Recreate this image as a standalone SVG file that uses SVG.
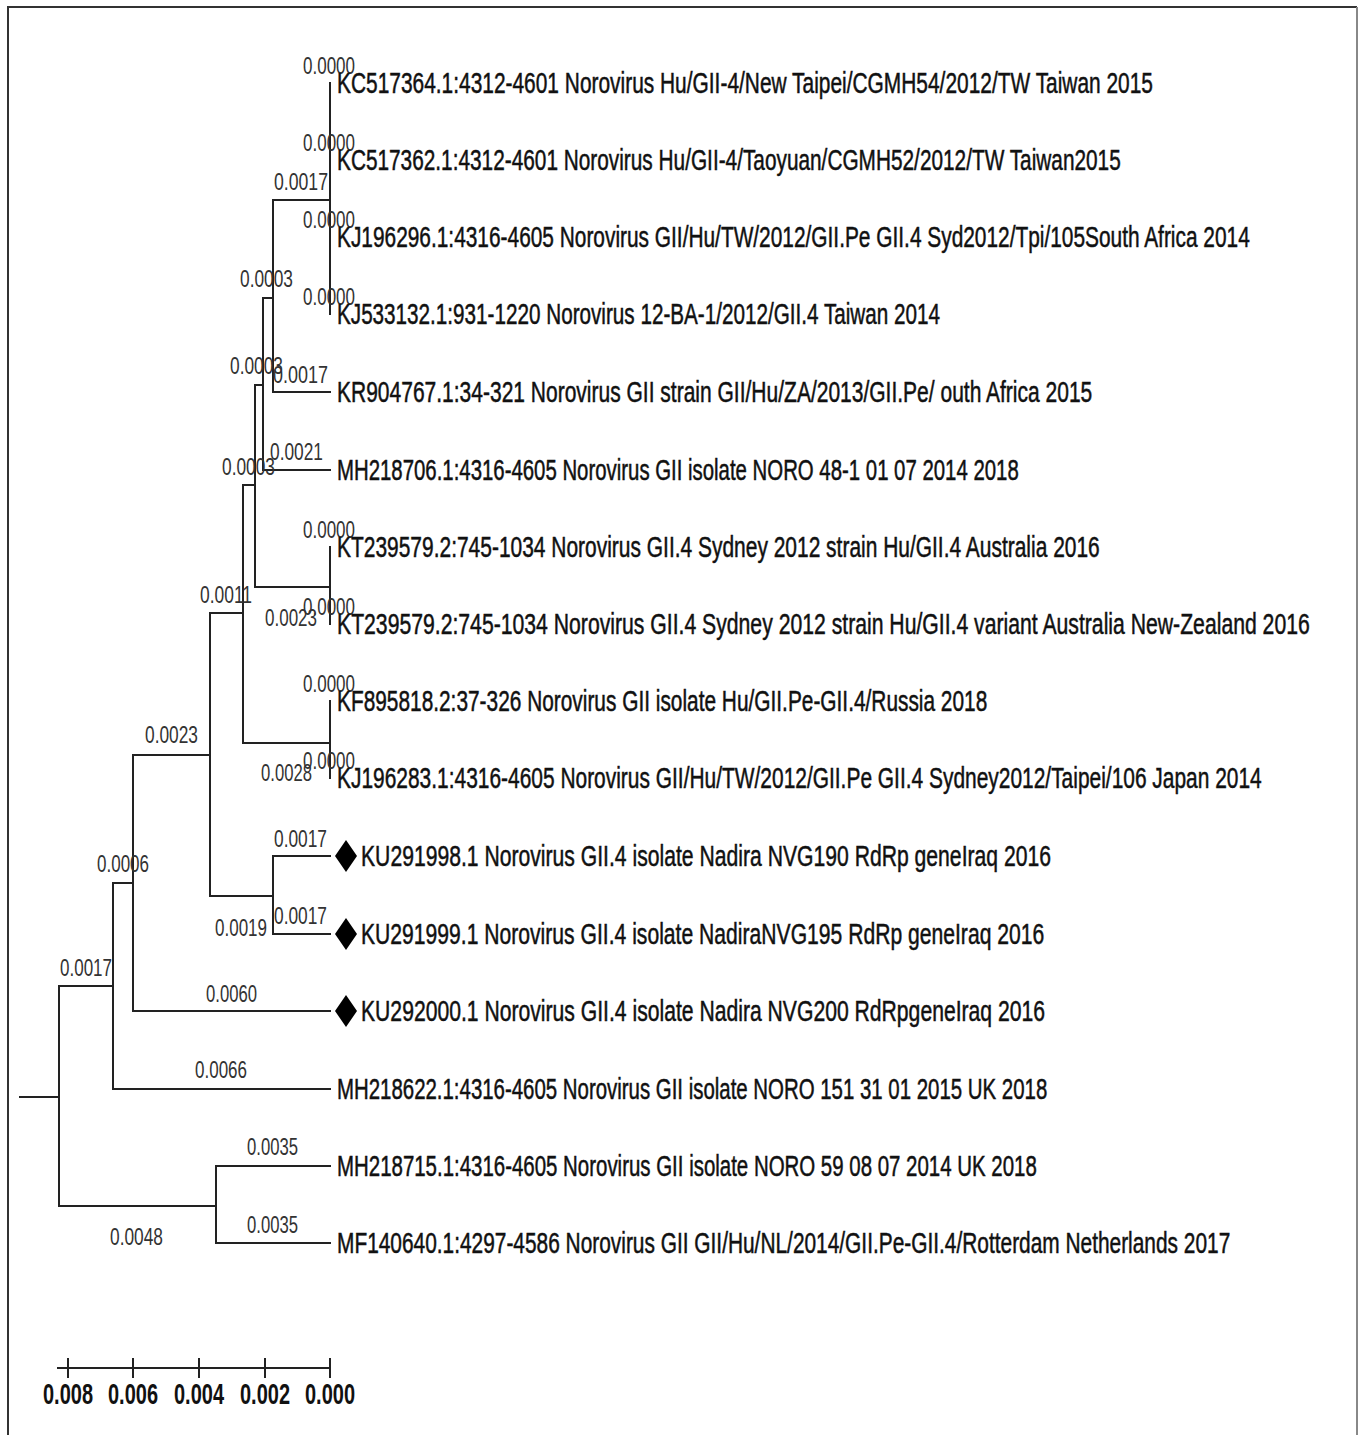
<svg xmlns="http://www.w3.org/2000/svg" width="1359" height="1435" viewBox="0 0 1359 1435">
<style>
.br{stroke:#222;stroke-width:2;fill:none;stroke-linecap:square}
.leaf{font-family:"Liberation Sans",Arial,sans-serif;font-size:29px;fill:#111;stroke:#111;stroke-width:0.5}
.bl{font-family:"Liberation Sans",Arial,sans-serif;font-size:23px;fill:#333}
.sc{font-family:"Liberation Sans",Arial,sans-serif;font-size:30px;font-weight:bold;fill:#111;text-anchor:middle}
.dia{fill:#000}
</style>
<rect width="1359" height="1435" fill="#fff"/>
<path d="M8,1435 V7 H1357" stroke="#333" stroke-width="2" fill="none"/>
<path d="M1357,7 V1435" stroke="#888" stroke-width="2" fill="none"/>

<g id="connectors">
<path class="br" d="M330,83 V314"/>
<path class="br" d="M273,200 H330"/>
<path class="br" d="M273,200 V392 M273,392 H330 M263,298 H273"/>
<path class="br" d="M263,298 V470 M263,470 H330 M255,385 H263"/>
<path class="br" d="M255,385 V587 M243,485 H255"/>
<path class="br" d="M330,547 V624 M255,587 H330"/>
<path class="br" d="M243,485 V743 M210,613 H243"/>
<path class="br" d="M330,701 V778 M243,743 H330"/>
<path class="br" d="M273,856 V934 M273,856 H330 M273,934 H330 M210,896 H273"/>
<path class="br" d="M210,613 V896 M133,755 H210"/>
<path class="br" d="M133,755 V1011 M133,1011 H330 M113,883 H133"/>
<path class="br" d="M113,883 V1089 M113,1089 H330 M59,986 H113"/>
<path class="br" d="M216,1166 V1243 M216,1166 H330 M216,1243 H330 M59,1206 H216"/>
<path class="br" d="M59,986 V1206 M20,1097 H59"/>
</g>

<g id="branch-labels">
<text class="bl" x="303" y="74" textLength="52" lengthAdjust="spacingAndGlyphs">0.0000</text>
<text class="bl" x="303" y="151" textLength="52" lengthAdjust="spacingAndGlyphs">0.0000</text>
<text class="bl" x="303" y="228" textLength="52" lengthAdjust="spacingAndGlyphs">0.0000</text>
<text class="bl" x="303" y="305" textLength="52" lengthAdjust="spacingAndGlyphs">0.0000</text>
<text class="bl" x="274" y="190" textLength="54" lengthAdjust="spacingAndGlyphs">0.0017</text>
<text class="bl" x="240" y="287" textLength="53" lengthAdjust="spacingAndGlyphs">0.0003</text>
<text class="bl" x="230" y="374" textLength="53" lengthAdjust="spacingAndGlyphs">0.0003</text>
<text class="bl" x="273" y="383" textLength="55" lengthAdjust="spacingAndGlyphs">0.0017</text>
<text class="bl" x="270" y="460" textLength="53" lengthAdjust="spacingAndGlyphs">0.0021</text>
<text class="bl" x="222" y="475" textLength="53" lengthAdjust="spacingAndGlyphs">0.0003</text>
<text class="bl" x="303" y="538" textLength="52" lengthAdjust="spacingAndGlyphs">0.0000</text>
<text class="bl" x="303" y="615" textLength="52" lengthAdjust="spacingAndGlyphs">0.0000</text>
<text class="bl" x="265" y="626" textLength="52" lengthAdjust="spacingAndGlyphs">0.0023</text>
<text class="bl" x="200" y="603" textLength="52" lengthAdjust="spacingAndGlyphs">0.0011</text>
<text class="bl" x="303" y="692" textLength="52" lengthAdjust="spacingAndGlyphs">0.0000</text>
<text class="bl" x="303" y="769" textLength="52" lengthAdjust="spacingAndGlyphs">0.0000</text>
<text class="bl" x="261" y="781" textLength="51" lengthAdjust="spacingAndGlyphs">0.0028</text>
<text class="bl" x="145" y="743" textLength="53" lengthAdjust="spacingAndGlyphs">0.0023</text>
<text class="bl" x="274" y="847" textLength="53" lengthAdjust="spacingAndGlyphs">0.0017</text>
<text class="bl" x="274" y="924" textLength="53" lengthAdjust="spacingAndGlyphs">0.0017</text>
<text class="bl" x="215" y="936" textLength="52" lengthAdjust="spacingAndGlyphs">0.0019</text>
<text class="bl" x="97" y="872" textLength="52" lengthAdjust="spacingAndGlyphs">0.0006</text>
<text class="bl" x="60" y="976" textLength="52" lengthAdjust="spacingAndGlyphs">0.0017</text>
<text class="bl" x="206" y="1002" textLength="51" lengthAdjust="spacingAndGlyphs">0.0060</text>
<text class="bl" x="195" y="1078" textLength="52" lengthAdjust="spacingAndGlyphs">0.0066</text>
<text class="bl" x="247" y="1155" textLength="51" lengthAdjust="spacingAndGlyphs">0.0035</text>
<text class="bl" x="247" y="1233" textLength="51" lengthAdjust="spacingAndGlyphs">0.0035</text>
<text class="bl" x="110" y="1245" textLength="53" lengthAdjust="spacingAndGlyphs">0.0048</text>
</g>

<g id="leaf1"><text class="leaf" transform="matrix(0.75,0,0,1,337,93)" textLength="1088" lengthAdjust="spacingAndGlyphs">KC517364.1:4312-4601 Norovirus Hu/GII-4/New Taipei/CGMH54/2012/TW Taiwan 2015</text></g>
<g id="leaf2"><text class="leaf" transform="matrix(0.75,0,0,1,337,170)" textLength="1045" lengthAdjust="spacingAndGlyphs">KC517362.1:4312-4601 Norovirus Hu/GII-4/Taoyuan/CGMH52/2012/TW Taiwan2015</text></g>
<g id="leaf3"><text class="leaf" transform="matrix(0.75,0,0,1,337,247)" textLength="1217" lengthAdjust="spacingAndGlyphs">KJ196296.1:4316-4605 Norovirus GII/Hu/TW/2012/GII.Pe GII.4 Syd2012/Tpi/105South Africa 2014</text></g>
<g id="leaf4"><text class="leaf" transform="matrix(0.75,0,0,1,337,324)" textLength="804" lengthAdjust="spacingAndGlyphs">KJ533132.1:931-1220 Norovirus 12-BA-1/2012/GII.4 Taiwan 2014</text></g>
<g id="leaf5"><text class="leaf" transform="matrix(0.75,0,0,1,337,402)" textLength="1007" lengthAdjust="spacingAndGlyphs">KR904767.1:34-321 Norovirus GII strain GII/Hu/ZA/2013/GII.Pe/ outh Africa 2015</text></g>
<g id="leaf6"><text class="leaf" transform="matrix(0.75,0,0,1,337,480)" textLength="909" lengthAdjust="spacingAndGlyphs">MH218706.1:4316-4605 Norovirus GII isolate NORO 48-1 01 07 2014 2018</text></g>
<g id="leaf7"><text class="leaf" transform="matrix(0.75,0,0,1,337,557)" textLength="1017" lengthAdjust="spacingAndGlyphs">KT239579.2:745-1034 Norovirus GII.4 Sydney 2012 strain Hu/GII.4 Australia 2016</text></g>
<g id="leaf8"><text class="leaf" transform="matrix(0.75,0,0,1,337,634)" textLength="1297" lengthAdjust="spacingAndGlyphs">KT239579.2:745-1034 Norovirus GII.4 Sydney 2012 strain Hu/GII.4 variant Australia New-Zealand 2016</text></g>
<g id="leaf9"><text class="leaf" transform="matrix(0.75,0,0,1,337,711)" textLength="867" lengthAdjust="spacingAndGlyphs">KF895818.2:37-326 Norovirus GII isolate Hu/GII.Pe-GII.4/Russia 2018</text></g>
<g id="leaf10"><text class="leaf" transform="matrix(0.75,0,0,1,337,788)" textLength="1233" lengthAdjust="spacingAndGlyphs">KJ196283.1:4316-4605 Norovirus GII/Hu/TW/2012/GII.Pe GII.4 Sydney2012/Taipei/106 Japan 2014</text></g>
<g id="leaf11"><path class="dia" d="M346,840 L357,856 L346,872 L335,856 Z"/><text class="leaf" transform="matrix(0.75,0,0,1,361,866)" textLength="920" lengthAdjust="spacingAndGlyphs">KU291998.1 Norovirus GII.4 isolate Nadira NVG190 RdRp geneIraq 2016</text></g>
<g id="leaf12"><path class="dia" d="M346,918 L357,934 L346,950 L335,934 Z"/><text class="leaf" transform="matrix(0.75,0,0,1,361,944)" textLength="911" lengthAdjust="spacingAndGlyphs">KU291999.1 Norovirus GII.4 isolate NadiraNVG195 RdRp geneIraq 2016</text></g>
<g id="leaf13"><path class="dia" d="M346,995 L357,1011 L346,1027 L335,1011 Z"/><text class="leaf" transform="matrix(0.75,0,0,1,361,1021)" textLength="912" lengthAdjust="spacingAndGlyphs">KU292000.1 Norovirus GII.4 isolate Nadira NVG200 RdRpgeneIraq 2016</text></g>
<g id="leaf14"><text class="leaf" transform="matrix(0.75,0,0,1,337,1099)" textLength="947" lengthAdjust="spacingAndGlyphs">MH218622.1:4316-4605 Norovirus GII isolate NORO 151 31 01 2015 UK 2018</text></g>
<g id="leaf15"><text class="leaf" transform="matrix(0.75,0,0,1,337,1176)" textLength="933" lengthAdjust="spacingAndGlyphs">MH218715.1:4316-4605 Norovirus GII isolate NORO 59 08 07 2014 UK 2018</text></g>
<g id="leaf16"><text class="leaf" transform="matrix(0.75,0,0,1,337,1253)" textLength="1191" lengthAdjust="spacingAndGlyphs">MF140640.1:4297-4586 Norovirus GII GII/Hu/NL/2014/GII.Pe-GII.4/Rotterdam Netherlands 2017</text></g>

<g id="scale">
<path class="br" d="M58,1368 H330 M68,1359 V1377 M133,1359 V1377 M199,1359 V1377 M265,1359 V1377 M330,1359 V1377"/>
<text class="sc" x="68" y="1404" textLength="50" lengthAdjust="spacingAndGlyphs">0.008</text>
<text class="sc" x="133" y="1404" textLength="50" lengthAdjust="spacingAndGlyphs">0.006</text>
<text class="sc" x="199" y="1404" textLength="50" lengthAdjust="spacingAndGlyphs">0.004</text>
<text class="sc" x="265" y="1404" textLength="50" lengthAdjust="spacingAndGlyphs">0.002</text>
<text class="sc" x="330" y="1404" textLength="50" lengthAdjust="spacingAndGlyphs">0.000</text>
</g>
</svg>
